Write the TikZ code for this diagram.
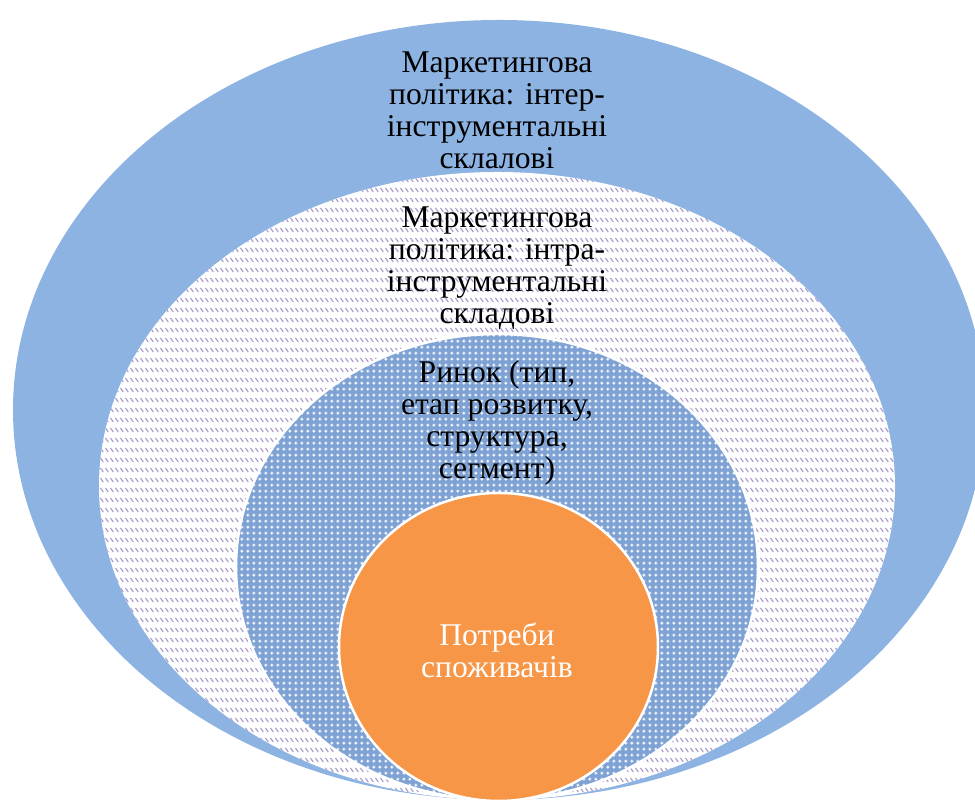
\documentclass[tikz,border=0pt]{standalone}
\usepackage{fontspec}
\setmainfont{Liberation Serif}
\newfontfamily\ringfont{Liberation Serif}
\usepackage{tikz}
\usetikzlibrary{patterns.meta}
\usepackage{xcolor}

\definecolor{outerblue}{HTML}{8DB3E2}
\definecolor{dotblue}{HTML}{7FA2D4}
\definecolor{hatchlilac}{HTML}{A99BCB}
\definecolor{needorange}{HTML}{F79646}

%% short diagonal dashes in rows
\tikzdeclarepattern{
  name=rowdashes,
  type=uncolored,
  bounding box={(0,0) and (0.1,0.2)},
  tile size={(0.1,0.2)},
  code={\draw[line width=0.025cm] (0.01,0.16) -- (0.08,0.08);}
}
%% small plus signs
\tikzdeclarepattern{
  name=pluses,
  type=uncolored,
  bounding box={(0,0) and (0.12,0.12)},
  tile size={(0.12,0.12)},
  code={\draw[line width=0.02cm] (0.03,0.06) -- (0.09,0.06) (0.06,0.03) -- (0.06,0.09);}
}

\tikzset{
  ringtext/.style={align=center, font=\ringfont\fontsize{18}{18.2}\selectfont},
  ringedge/.style={draw=white, line width=0.05cm}
}

\begin{document}
\begin{tikzpicture}
\useasboundingbox (0,0) rectangle (19.5,16.12);
\begin{scope}
  \clip (0,0) rectangle (19.5,16.12);

  %% outer ring: inter-instrumental
  \fill[outerblue] (9.98,7.92) ellipse [x radius=9.72, y radius=7.8];

  %% second ring: intra-instrumental (hatched)
  \fill[white] (9.94,6.4) ellipse [x radius=7.96, y radius=6.28];
  \fill[pattern={rowdashes}, pattern color=hatchlilac] (9.94,6.4) ellipse [x radius=7.96, y radius=6.28];

  %% third ring: market (dotted blue)
  \fill[dotblue] (9.94,4.78) ellipse [x radius=5.22, y radius=4.66];
  \fill[pattern={pluses}, pattern color=white] (9.94,4.78) ellipse [x radius=5.22, y radius=4.66];
  \draw[ringedge] (9.94,4.78) ellipse [x radius=5.22, y radius=4.66];

  %% core: consumer needs
  \fill[needorange] (9.97,3.18) ellipse [x radius=3.19, y radius=3.08];
  \draw[ringedge] (9.97,3.18) ellipse [x radius=3.19, y radius=3.08];
\end{scope}

%% labels
\node[ringtext] (inter) at (9.94,13.92) {Маркетингова\\політика: інтер-\\інструментальні\\склалові};
\node[ringtext] (intra) at (9.94,10.76) {Маркетингова\\політика: інтра-\\інструментальні\\складові};
\node[ringtext] (market) at (9.94,7.67) {Ринок (тип,\\етап розвитку,\\структура,\\сегмент)};
\node[ringtext, text=white] (needs) at (9.94,3.12) {Потреби\\споживачів};
\end{tikzpicture}
\end{document}
